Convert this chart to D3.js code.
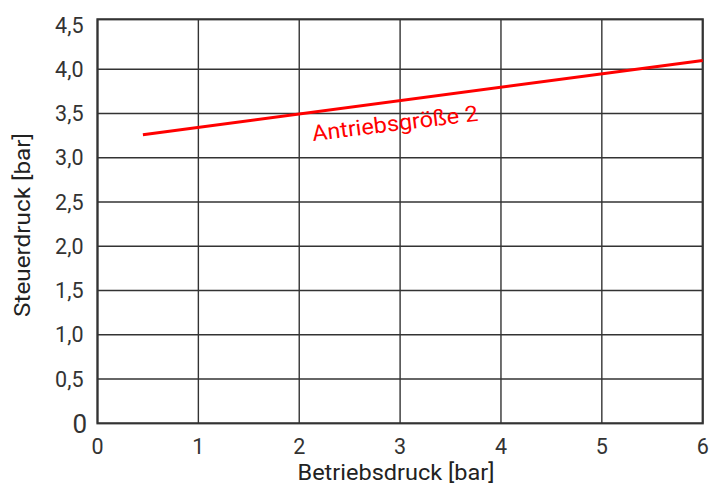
<!DOCTYPE html>
<html><head><meta charset="utf-8">
<script src="https://cdn.jsdelivr.net/npm/d3@7"></script>
<style>body{margin:0;background:#fff}text{font-family:Roboto,"Noto Sans",sans-serif}</style>
</head><body>
<svg id="c" width="714" height="488"></svg>
<script>
const xTicks = [0,1,2,3,4,5,6];
const yGrid = [0.5,1,1.5,2,2.5,3,3.5,4];
const yTicks = [0,0.5,1,1.5,2,2.5,3,3.5,4,4.5];
const yTickLabels = ["0","0,5","1,0","1,5","2,0","2,5","3,0","3,5","4,0","4,5"];
const seriesX = [0.45, 6];
const seriesY = [3.26, 4.10];
const seriesName = "Antriebsgröße 2";
const yMax = 4.565;

const svg = d3.select("#c");
const L=97.5, R=702.7, T=19.3, B=423.3;
const x = d3.scaleLinear().domain([0,6]).range([L,R]);
const y = d3.scaleLinear().domain([0,yMax]).range([B,T]);

const g = svg.append("g");
g.selectAll(".vx").data(xTicks).join("line")
 .attr("x1",d=>x(d)).attr("x2",d=>x(d)).attr("y1",T).attr("y2",B)
 .attr("stroke","#333").attr("stroke-width",1.4);
g.selectAll(".hy").data(yGrid).join("line")
 .attr("y1",d=>y(d)).attr("y2",d=>y(d)).attr("x1",L).attr("x2",R)
 .attr("stroke","#333").attr("stroke-width",1.4);
g.append("rect").attr("x",L).attr("y",T).attr("width",R-L).attr("height",B-T)
 .attr("fill","none").attr("stroke","#333").attr("stroke-width",2.2);

g.selectAll(".xl").data(xTicks).join("text")
 .attr("x",d=>x(d)).attr("y",454).attr("text-anchor","middle")
 .attr("font-size",21.5).attr("fill","#333").text(d=>d);
g.selectAll(".yl").data(yTicks).join("text")
 .attr("x",d=>d===0?87:83.5)
 .attr("y",d=>d===4.5?Math.max(y(d),T+3)+7.5:y(d)+(d===0?9.5:7.5)).attr("text-anchor","end")
 .attr("font-size",d=>d===0?26:21.5).attr("fill","#333").text((d,i)=>yTickLabels[i]);

const pts = seriesX.map((v,i)=>[v,seriesY[i]]);
g.append("path").attr("d",d3.line().x(d=>x(d[0])).y(d=>y(d[1]))(pts))
 .attr("fill","none").attr("stroke","#ff0000").attr("stroke-width",3);

g.append("text").attr("transform","translate(313,141) rotate(-7)")
 .attr("font-size",22).attr("fill","#ff0000")
 .attr("textLength",167).attr("lengthAdjust","spacingAndGlyphs").text(seriesName);

svg.append("text").attr("x",396).attr("y",480).attr("text-anchor","middle")
 .attr("font-size",22).attr("fill","#222")
 .attr("textLength",197).attr("lengthAdjust","spacingAndGlyphs").text("Betriebsdruck [bar]");
svg.append("text").attr("transform","translate(30,225) rotate(-90)").attr("text-anchor","middle")
 .attr("font-size",22).attr("fill","#222")
 .attr("textLength",184).attr("lengthAdjust","spacingAndGlyphs").text("Steuerdruck [bar]");
</script></body></html>
